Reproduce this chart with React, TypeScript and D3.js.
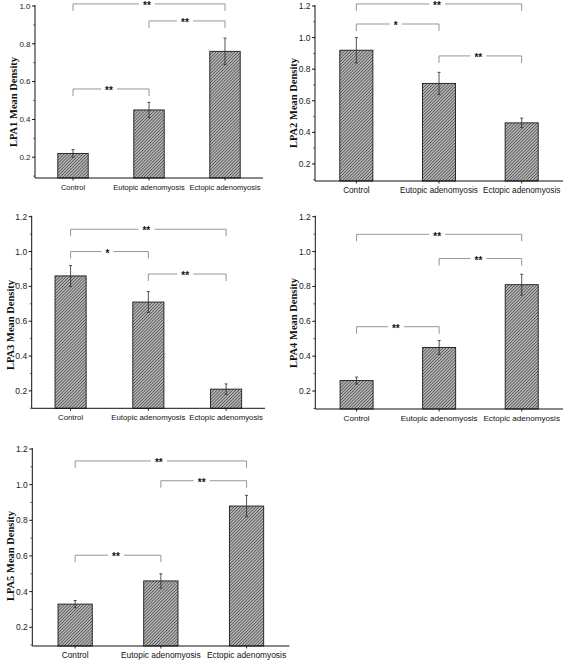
import React from "react";
import * as d3 from "d3";

const categories = ["Control", "Eutopic adenomyosis", "Ectopic adenomyosis"];

const lpa1Means = [0.22, 0.45, 0.76];
const lpa1Errors = [0.02, 0.04, 0.07];
const lpa2Means = [0.92, 0.71, 0.46];
const lpa2Errors = [0.08, 0.07, 0.03];
const lpa3Means = [0.86, 0.71, 0.21];
const lpa3Errors = [0.06, 0.06, 0.03];
const lpa4Means = [0.26, 0.45, 0.81];
const lpa4Errors = [0.02, 0.04, 0.06];
const lpa5Means = [0.33, 0.46, 0.88];
const lpa5Errors = [0.02, 0.04, 0.06];

const yTicks1 = [0.2, 0.4, 0.6, 0.8, 1.0];
const yTicks = [0.2, 0.4, 0.6, 0.8, 1.0, 1.2];

// significance brackets: [fromIndex, toIndex, level, label]
const lpa1Sig: [number, number, number, string][] = [
  [0, 2, 1.011, "**"],
  [1, 2, 0.921, "**"],
  [0, 1, 0.561, "**"],
];
const lpa2Sig: [number, number, number, string][] = [
  [0, 2, 1.213, "**"],
  [0, 1, 1.086, "*"],
  [1, 2, 0.884, "**"],
];
const lpa3Sig: [number, number, number, string][] = [
  [0, 2, 1.128, "**"],
  [0, 1, 1.0, "*"],
  [1, 2, 0.871, "**"],
];
const lpa4Sig: [number, number, number, string][] = [
  [0, 2, 1.099, "**"],
  [1, 2, 0.96, "**"],
  [0, 1, 0.569, "**"],
];
const lpa5Sig: [number, number, number, string][] = [
  [0, 2, 1.133, "**"],
  [1, 2, 1.022, "**"],
  [0, 1, 0.604, "**"],
];

type PanelSpec = {
  title: string;
  means: number[];
  errors: number[];
  sig: [number, number, number, string][];
  ticks: number[];
  yMin: number;
  yMax: number;
  left: number;
  right: number;
  top: number;
  bottom: number;
  titleX: number;
  titleY: number;
  tickFont: number;
  catFont: number;
};

const panels: PanelSpec[] = [
  { title: "LPA1 Mean Density", means: lpa1Means, errors: lpa1Errors, sig: lpa1Sig, ticks: yTicks1,
    yMin: 0.09, yMax: 1.0, left: 35, right: 263, top: 6, bottom: 178, titleX: 13.5, titleY: 102, tickFont: 8, catFont: 7.5 },
  { title: "LPA2 Mean Density", means: lpa2Means, errors: lpa2Errors, sig: lpa2Sig, ticks: yTicks,
    yMin: 0.092, yMax: 1.2, left: 315, right: 563, top: 6, bottom: 181, titleX: 293, titleY: 103, tickFont: 8.5, catFont: 8.2 },
  { title: "LPA3 Mean Density", means: lpa3Means, errors: lpa3Errors, sig: lpa3Sig, ticks: yTicks,
    yMin: 0.1, yMax: 1.2, left: 31.7, right: 265, top: 216.7, bottom: 408.3, titleX: 10.7, titleY: 325, tickFont: 8.5, catFont: 7.8 },
  { title: "LPA4 Mean Density", means: lpa4Means, errors: lpa4Errors, sig: lpa4Sig, ticks: yTicks,
    yMin: 0.097, yMax: 1.2, left: 315.3, right: 563, top: 216.7, bottom: 409, titleX: 293.7, titleY: 323, tickFont: 8.5, catFont: 8.1 },
  { title: "LPA5 Mean Density", means: lpa5Means, errors: lpa5Errors, sig: lpa5Sig, ticks: yTicks,
    yMin: 0.095, yMax: 1.2, left: 32.3, right: 289.4, top: 449, bottom: 646, titleX: 10, titleY: 556, tickFont: 8.5, catFont: 8.4 },
];

function Panel({ p }: { p: PanelSpec }) {
  const y = d3.scaleLinear().domain([p.yMin, p.yMax]).range([p.bottom, p.top]);
  const x = d3
    .scaleBand<string>()
    .domain(categories)
    .range([p.left, p.right])
    .paddingInner(0.6)
    .paddingOuter(0.3);
  const bw = x.bandwidth();
  const cx = (i: number) => (x(categories[i]) as number) + bw / 2;
  const minor = d3.range(Math.ceil(p.yMin * 10), Math.floor(p.yMax * 10) + 1)
    .map((v) => v / 10)
    .filter((v) => Math.round(v * 10) % 2 === 1);
  const sans = "'Liberation Sans', Arial, sans-serif";
  return (
    <g>
      {p.means.map((m, i) => (
        <rect
          key={"b" + i}
          x={x(categories[i])}
          y={y(m)}
          width={bw}
          height={y(p.yMin) - y(m)}
          fill="url(#hatch)"
          stroke="#1a1a1a"
          strokeWidth={0.9}
        />
      ))}
      {p.means.map((m, i) => {
        const e = p.errors[i];
        const c = cx(i);
        return (
          <g key={"e" + i} stroke="#2a2a2a" strokeWidth={0.8}>
            <line x1={c} x2={c} y1={y(m - e)} y2={y(m + e)} />
            <line x1={c - 1.5} x2={c + 1.5} y1={y(m + e)} y2={y(m + e)} />
            <line x1={c - 1.5} x2={c + 1.5} y1={y(m - e)} y2={y(m - e)} />
          </g>
        );
      })}
      <line x1={p.left} x2={p.left} y1={p.bottom} y2={y(p.yMax) - 1} stroke="#111" strokeWidth={1} />
      <line x1={p.left} x2={p.right} y1={p.bottom} y2={p.bottom} stroke="#111" strokeWidth={1} />
      {p.ticks.map((t) => (
        <g key={"t" + t}>
          <line x1={p.left - 3} x2={p.left} y1={y(t)} y2={y(t)} stroke="#111" strokeWidth={1} />
          <text
            x={p.left - 4.5}
            y={y(t)}
            dy="0.35em"
            textAnchor="end"
            fontFamily={sans}
            fontSize={p.tickFont}
            fill="#222"
          >
            {t.toFixed(1)}
          </text>
        </g>
      ))}
      {minor.map((t) => (
        <line key={"m" + t} x1={p.left - 1.8} x2={p.left} y1={y(t)} y2={y(t)} stroke="#333" strokeWidth={0.8} />
      ))}
      {categories.map((c, i) => (
        <g key={"c" + i}>
          <line x1={cx(i)} x2={cx(i)} y1={p.bottom} y2={p.bottom + 2.5} stroke="#111" strokeWidth={0.9} />
          <text
            x={cx(i)}
            y={p.bottom + 11.5}
            textAnchor="middle"
            fontFamily={sans}
            fontSize={p.catFont}
            fill="#111"
          >
            {c}
          </text>
        </g>
      ))}
      <text
        transform={`translate(${p.titleX},${p.titleY}) rotate(-90)`}
        textAnchor="middle"
        dy="0.35em"
        fontFamily="'Liberation Serif', 'Times New Roman', serif"
        fontWeight="bold"
        fontSize={10.5}
        fill="#111"
      >
        {p.title}
      </text>
      {p.sig.map(([a, b, lvl, lab], k) => {
        const x1 = cx(a);
        const x2 = cx(b);
        const yy = y(lvl);
        const mid = (x1 + x2) / 2 - 2;
        const gap = lab.length === 2 ? 8 : 6;
        return (
          <g key={"s" + k}>
            <path
              d={`M${x1},${yy + 7}V${yy}H${mid - gap}M${mid + gap},${yy}H${x2}V${yy + 7}`}
              fill="none"
              stroke="#8a8a8a"
              strokeWidth={0.9}
            />
            <text
              x={mid}
              y={yy + 5.2}
              textAnchor="middle"
              fontFamily={sans}
              fontWeight="bold"
              fontSize={10}
              fill="#111"
            >
              {lab}
            </text>
          </g>
        );
      })}
    </g>
  );
}

export default function App() {
  return (
    <svg
      width={567}
      height={663}
      style={{ position: "absolute", left: 0, top: 0, background: "#fff" }}
    >
      <defs>
        <pattern id="hatch" patternUnits="userSpaceOnUse" width={2.2} height={2.2} patternTransform="rotate(45)">
          <rect width={2.2} height={2.2} fill="#b4b4b4" />
          <line x1={0} y1={0} x2={0} y2={2.2} stroke="#3a3a3a" strokeWidth={1.2} />
        </pattern>
      </defs>
      <rect width={567} height={663} fill="#fff" />
      {panels.map((p, i) => (
        <Panel key={i} p={p} />
      ))}
    </svg>
  );
}
